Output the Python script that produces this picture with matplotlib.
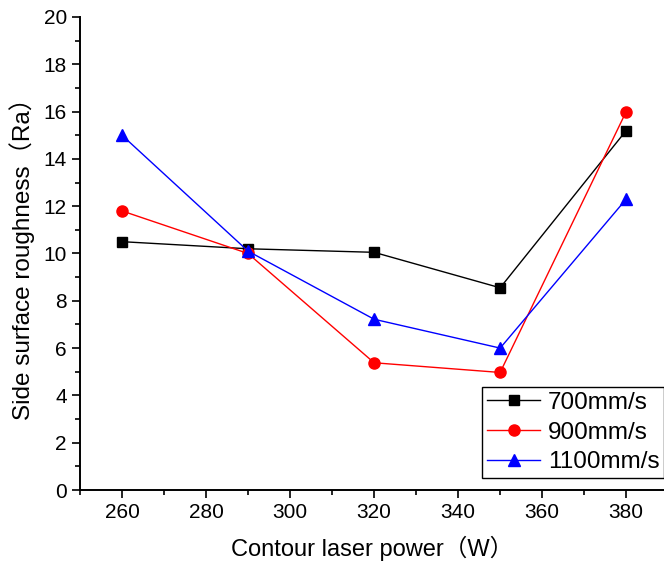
import matplotlib
matplotlib.use("Agg")
import matplotlib.pyplot as plt
from matplotlib.ticker import MultipleLocator

power = [260, 290, 320, 350, 380]
rough_700 = [10.5, 10.2, 10.05, 8.55, 15.2]
rough_900 = [11.8, 10.0, 5.38, 4.97, 16.0]
rough_1100 = [15.0, 10.1, 7.22, 6.0, 12.3]

series = [
    ("700mm/s", rough_700, "black", "s", 7.5),
    ("900mm/s", rough_900, "red", "o", 8),
    ("1100mm/s", rough_1100, "blue", "^", 8.5),
]

fonts = ["Liberation Sans", "Noto Sans CJK SC", "DejaVu Sans"]
plt.rcParams["font.family"] = fonts

fig = plt.figure(figsize=(6.64, 5.66), dpi=100)
ax = fig.add_axes([80 / 664, 1 - 490 / 566, 1 - 80 / 664, (490 - 17) / 566])

for label, values, color, marker, size in series:
    ax.plot(power, values, color=color, marker=marker, markersize=size,
            linewidth=1.0, label=label)

ax.set_xlim(250, 389)
ax.set_ylim(0, 20)
ax.xaxis.set_major_locator(MultipleLocator(20))
ax.xaxis.set_minor_locator(MultipleLocator(10))
ax.yaxis.set_major_locator(MultipleLocator(2))
ax.yaxis.set_minor_locator(MultipleLocator(1))
ax.tick_params(which="major", direction="out", length=6, width=1.2, labelsize=15)
ax.tick_params(which="minor", direction="out", length=3.5, width=1.2)
for side in ("top", "right"):
    ax.spines[side].set_visible(False)
for side in ("left", "bottom"):
    ax.spines[side].set_linewidth(1.4)

ax.set_xlabel("Contour laser power（W）", fontsize=17, labelpad=10)
ax.set_ylabel("Side surface roughness（Ra）", fontsize=17.5, labelpad=6)

leg = ax.legend(loc="upper left", bbox_to_anchor=(482 / 664, 1 - 387 / 566),
                bbox_transform=fig.transFigure, fontsize=17.5, fancybox=False,
                framealpha=1, edgecolor="black", borderaxespad=0,
                handlelength=2.2, labelspacing=0.32, borderpad=0.2,
                handletextpad=0.3)
leg.get_frame().set_linewidth(1.0)

fig.savefig("out.png", dpi=100)
